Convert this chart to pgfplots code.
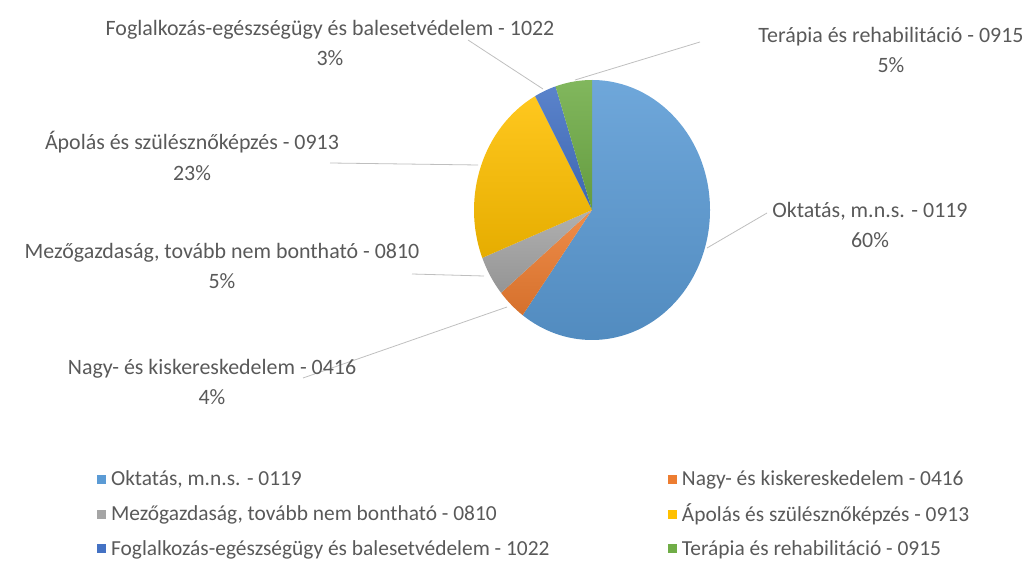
\documentclass[border=0pt]{standalone}
\usepackage{pgfplots}
\pgfplotsset{compat=1.18}
\usepackage{pgfplotstable}
\usepackage{fontspec}
\setmainfont{Carlito}

\definecolor{c0}{HTML}{5B9BD5}
\definecolor{c1}{HTML}{ED7D31}
\definecolor{c2}{HTML}{A5A5A5}
\definecolor{c3}{HTML}{FFC000}
\definecolor{c4}{HTML}{4472C4}
\definecolor{c5}{HTML}{70AD47}
\definecolor{txt}{HTML}{595959}
\definecolor{lead}{HTML}{BFBFBF}

% share of each field (percent), in pie order (clockwise from 12 o'clock)
\pgfplotstableread{
idx value
0 60
1 4
2 5
3 23
4 3
5 5
}\piedata

\begin{document}
\begin{tikzpicture}
% cumulative angles from the data
\pgfplotstablegetrowsof{\piedata}
\pgfmathtruncatemacro\lastrow{\pgfplotsretval-1}
\xdef\cumang{90}
\foreach \i in {0,...,\lastrow}{
  \pgfplotstablegetelem{\i}{value}\of\piedata
  \pgfmathsetmacro\sweep{3.6*\pgfplotsretval}
  \pgfmathsetmacro\endang{\cumang-\sweep}
  \expandafter\xdef\csname sa\i\endcsname{\cumang}
  \expandafter\xdef\csname se\i\endcsname{\endang}
  \xdef\cumang{\endang}
}
\begin{axis}[
  name=main,
  width=1031bp, height=565bp, scale only axis,
  xmin=0, xmax=1031, ymin=0, ymax=565,
  hide axis, clip=false,
  legend columns=2,
  legend cell align=left,
  legend style={
    at={(axis cs:97,95)}, anchor=north west,
    draw=none, fill=none,
    font=\fontsize{21.5}{26}\selectfont\color{txt},
    inner sep=0pt,
    row sep=16bp,
    /tikz/column 2/.style={column sep=118bp},
    nodes={inner sep=0.5bp},
  },
]
\pgfplotsinvokeforeach{0,...,5}{
  \shade[top color=c#1!88!white, bottom color=c#1!90!black, shading angle=0]
    (axis cs:592,355) -- ++(\csname sa#1\endcsname:118bp and 130bp)
    arc[start angle=\csname sa#1\endcsname, end angle=\csname se#1\endcsname,
        x radius=118bp, y radius=130bp] -- cycle;
}

\pgfplotsset{sq/.style={legend image code/.code={
  \fill[#1] (0bp,-4bp) rectangle (8bp,4bp); \path (13bp,0bp);}}}
\addlegendimage{sq=c0}
\addlegendentry{Oktatás, m.n.s. - 0119}
\addlegendimage{sq=c1}
\addlegendentry{Nagy- és kiskereskedelem - 0416}
\addlegendimage{sq=c2}
\addlegendentry{Mezőgazdaság, tovább nem bontható - 0810}
\addlegendimage{sq=c3}
\addlegendentry{Ápolás és szülésznőképzés - 0913}
\addlegendimage{sq=c4}
\addlegendentry{Foglalkozás-egészségügy és balesetvédelem - 1022}
\addlegendimage{sq=c5}
\addlegendentry{Terápia és rehabilitáció - 0915}

% leader lines
\draw[lead, line width=0.8bp] (axis cs:468,525) -- (axis cs:543,476);
\draw[lead, line width=0.8bp] (axis cs:700,523) -- (axis cs:575,485);
\draw[lead, line width=0.8bp] (axis cs:330,402) -- (axis cs:478,400);
\draw[lead, line width=0.8bp] (axis cs:412,291) -- (axis cs:484,289);
\draw[lead, line width=0.8bp] (axis cs:303,187) -- (axis cs:507,258);
\draw[lead, line width=0.8bp] (axis cs:767,352) -- (axis cs:707,317);

% data labels
\tikzset{lbl/.style={align=center, text=txt, inner sep=0pt,
  font=\fontsize{22}{31}\selectfont}}
\node[lbl] at (axis cs:330,522) {Foglalkozás-egészségügy és balesetvédelem - 1022\\3\%};
\node[lbl] at (axis cs:891,515) {Terápia és rehabilitáció - 0915\\5\%};
\node[lbl] at (axis cs:192,409) {Ápolás és szülésznőképzés - 0913\\23\%};
\node[lbl] at (axis cs:870,340) {Oktatás, m.n.s. - 0119\\60\%};
\node[lbl] at (axis cs:222,299) {Mezőgazdaság, tovább nem bontható - 0810\\5\%};
\node[lbl] at (axis cs:212,183) {Nagy- és kiskereskedelem - 0416\\4\%};
\end{axis}
\pgfresetboundingbox
\path[use as bounding box] (main.south west) rectangle (main.north east);
\end{tikzpicture}
\end{document}
